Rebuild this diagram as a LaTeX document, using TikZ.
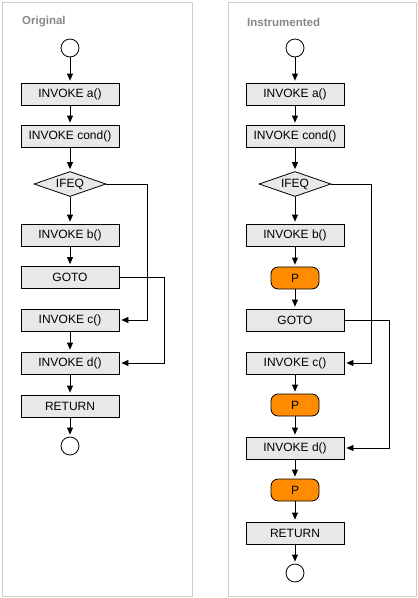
\documentclass[tikz,border=0pt]{standalone}
\usepackage{fontspec}
\setmainfont{Liberation Sans}
\usetikzlibrary{shapes.geometric,arrows.meta}
\definecolor{boxgray}{HTML}{E8E8E8}
\definecolor{panelgray}{HTML}{CCCCCC}
\definecolor{titlegray}{HTML}{888888}
\definecolor{porange}{HTML}{FF8C00}
\tikzset{
  panel/.style={draw=panelgray, line width=1pt},
  title/.style={anchor=west, text=titlegray, font=\fontsize{11.5}{13}\selectfont\bfseries, inner sep=0pt},
  op/.style={draw=black, fill=boxgray, line width=0.8pt, minimum width=98pt, minimum height=22pt, inner sep=0pt, font=\fontsize{12}{14}\selectfont},
  probe/.style={draw=black, fill=porange, line width=0.8pt, rounded corners=7pt, minimum width=48pt, minimum height=22pt, inner sep=0pt, font=\fontsize{12}{14}\selectfont},
  cond/.style={draw=black, fill=boxgray, line width=0.8pt, diamond, aspect=2.88, minimum width=72pt, minimum height=25pt, inner sep=0pt, font=\fontsize{12}{14}\selectfont},
  term/.style={draw=black, fill=white, line width=0.8pt, circle, minimum size=18pt, inner sep=0pt},
  arr/.style={line width=0.8pt, -{Triangle[length=7pt,width=6pt]}, shorten >=2pt},
  ln/.style={line width=0.8pt}
}
\begin{document}
\begin{tikzpicture}[x=1pt,y=-1pt]
\useasboundingbox (0,0) rectangle (418,598);
% panels
\draw[panel] (2.5,2.5) rectangle (192,596);
\draw[panel] (228,2.5) rectangle (416.5,596);
\node[title] (t1) at (22,22) {Original};
\node[title] (t2) at (247,22) {Instrumented};
% left
\node[term] (ls) at (70,48) {};
\node[op] (la) at (70,94) {INVOKE a()};
\node[op] (lcond) at (70,136) {INVOKE cond()};
\node[cond] (lif) at (70,184) {IFEQ};
\node[op] (lb) at (70,235) {INVOKE b()};
\node[op] (lgoto) at (70,277.5) {GOTO};
\node[op] (lc) at (70,320) {INVOKE c()};
\node[op] (ld) at (70,363) {INVOKE d()};
\node[op] (lret) at (70,406) {RETURN};
\node[term] (le) at (70,446) {};
\draw[arr] (ls) -- (la);
\draw[arr] (la) -- (lcond);
\draw[arr] (lcond) -- (lif);
\draw[arr] (lif) -- (lb);
\draw[arr] (lb) -- (lgoto);
\draw[arr] (lc) -- (ld);
\draw[arr] (ld) -- (lret);
\draw[arr] (lret) -- (le);
\coordinate (lj1) at (147,320);
\coordinate (lj2) at (164,363);
\draw[arr] (lif.east) -| (lj1) -- (lc.east);
\draw[arr] (lgoto.east) -| (lj2) -- (ld.east);
% right
\node[term] (rs) at (295,48) {};
\node[op] (ra) at (295,94) {INVOKE a()};
\node[op] (rcond) at (295,136) {INVOKE cond()};
\node[cond] (rif) at (295,184) {IFEQ};
\node[op] (rb) at (295,235) {INVOKE b()};
\node[probe] (rp1) at (295,278) {P};
\node[op] (rgoto) at (295,320) {GOTO};
\node[op] (rc) at (295,363) {INVOKE c()};
\node[probe] (rp2) at (295,405) {P};
\node[op] (rd) at (295,448) {INVOKE d()};
\node[probe] (rp3) at (295,490) {P};
\node[op] (rret) at (295,533) {RETURN};
\node[term] (re) at (295,573) {};
\draw[arr] (rs) -- (ra);
\draw[arr] (ra) -- (rcond);
\draw[arr] (rcond) -- (rif);
\draw[arr] (rif) -- (rb);
\draw[arr] (rb) -- (rp1);
\draw[arr] (rp1) -- (rgoto);
\draw[arr] (rc) -- (rp2);
\draw[arr] (rp2) -- (rd);
\draw[arr] (rd) -- (rp3);
\draw[arr] (rp3) -- (rret);
\draw[arr] (rret) -- (re);
\coordinate (rj1) at (371.5,363);
\coordinate (rj2) at (389,448);
\draw[arr] (rif.east) -| (rj1) -- (rc.east);
\draw[arr] (rgoto.east) -| (rj2) -- (rd.east);
\end{tikzpicture}
\end{document}
